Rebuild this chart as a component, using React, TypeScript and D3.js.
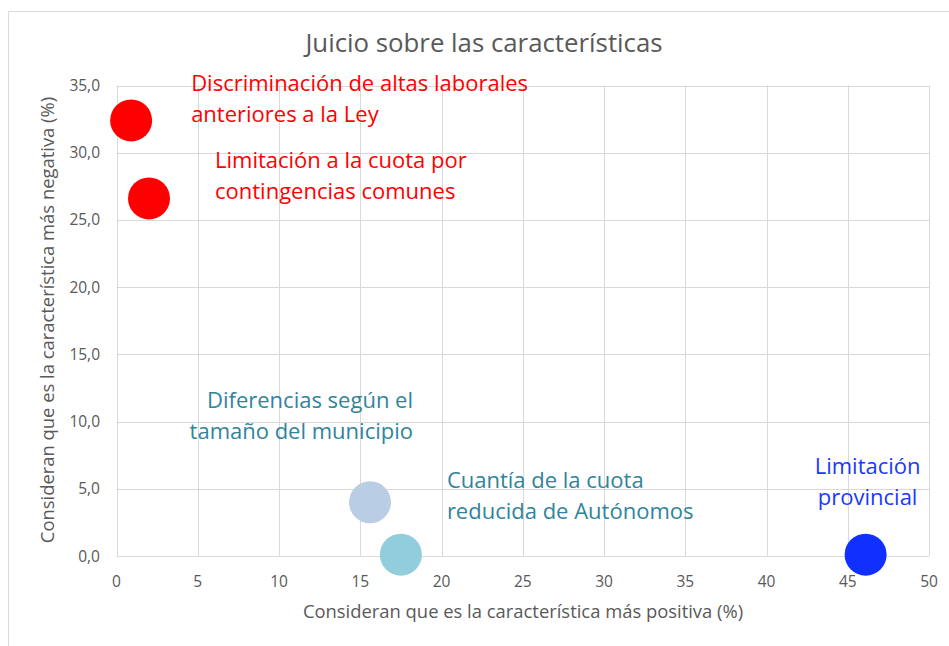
import * as d3 from "d3";
import React, { useEffect, useRef } from "react";

// valores
const xPositiva = [0.9, 2.0, 15.6, 17.5, 46.1];
const yNegativa = [32.4, 26.6, 4.0, 0.1, 0.1];
const etiquetas = [
  ["Discriminación de altas laborales", "anteriores a la Ley"],
  ["Limitación a la cuota por", "contingencias comunes"],
  ["Diferencias según el", "tamaño del municipio"],
  ["Cuantía de la cuota", "reducida de Autónomos"],
  ["Limitación", "provincial"],
];
const coloresPunto = ["#FF0000", "#FF0000", "#B9CDE5", "#92CDDC", "#1030FF"];
const coloresTexto = ["#FF0000", "#FF0000", "#31849B", "#31849B", "#1B38FF"];
const xTicks = [0, 5, 10, 15, 20, 25, 30, 35, 40, 45, 50];
const yTicks = [0, 5, 10, 15, 20, 25, 30, 35];

// posición de cada etiqueta respecto a su punto (px)
const etiquetaOffset = [
  { dx: 60, dy: -29, anchor: "start" },
  { dx: 66, dy: -30, anchor: "start" },
  { dx: 43, dy: -94, anchor: "end" },
  { dx: 46, dy: -67, anchor: "start" },
  { dx: 2, dy: -81, anchor: "middle" },
];

const W = 949;
const H = 646;
const FONT = "'Open Sans', Lato, sans-serif";

const App = () => {
  const ref = useRef<SVGSVGElement>(null);

  useEffect(() => {
    const svg = d3.select(ref.current);
    svg.selectAll("*").remove();

    const margin = { top: 85.5, right: 20, bottom: 90, left: 116.5 };

    const x = d3.scaleLinear().domain([0, 50]).range([margin.left, 929]);
    const y = d3.scaleLinear().domain([0, 35]).range([556, margin.top]);

    svg
      .append("rect")
      .attr("x", 8.5)
      .attr("y", 11.5)
      .attr("width", 960)
      .attr("height", 660)
      .attr("fill", "#fff")
      .attr("stroke", "#D9D9D9")
      .attr("stroke-width", 1);

    // rejilla
    svg
      .append("g")
      .selectAll("line.v")
      .data(xTicks)
      .join("line")
      .attr("x1", (d) => Math.round(x(d)) + 0.5)
      .attr("x2", (d) => Math.round(x(d)) + 0.5)
      .attr("y1", y(0))
      .attr("y2", y(35))
      .attr("stroke", "#D9D9D9");

    svg
      .append("g")
      .selectAll("line.h")
      .data(yTicks)
      .join("line")
      .attr("x1", x(0))
      .attr("x2", x(50))
      .attr("y1", (d) => Math.round(y(d)) + 0.5)
      .attr("y2", (d) => Math.round(y(d)) + 0.5)
      .attr("stroke", "#D9D9D9");

    // etiquetas de ejes
    svg
      .append("g")
      .selectAll("text")
      .data(xTicks)
      .join("text")
      .attr("x", (d) => x(d))
      .attr("y", 587)
      .attr("text-anchor", "middle")
      .attr("font-family", FONT)
      .attr("font-size", 15.5)
      .attr("fill", "#595959")
      .text((d) => d);

    svg
      .append("g")
      .selectAll("text")
      .data(yTicks)
      .join("text")
      .attr("x", 100)
      .attr("y", (d) => y(d) + 5.5)
      .attr("text-anchor", "end")
      .attr("font-family", FONT)
      .attr("font-size", 15.5)
      .attr("fill", "#595959")
      .text((d) => d.toFixed(1).replace(".", ","));

    svg
      .append("text")
      .attr("x", 523)
      .attr("y", 618)
      .attr("text-anchor", "middle")
      .attr("font-family", FONT)
      .attr("font-size", 18.4)
      .attr("fill", "#595959")
      .text("Consideran que es la característica más positiva (%)");

    svg
      .append("text")
      .attr("transform", "translate(54,320) rotate(-90)")
      .attr("text-anchor", "middle")
      .attr("font-family", FONT)
      .attr("font-size", 18.4)
      .attr("fill", "#595959")
      .text("Consideran que es la característica más negativa (%)");

    svg
      .append("text")
      .attr("x", 484)
      .attr("y", 52)
      .attr("text-anchor", "middle")
      .attr("font-family", FONT)
      .attr("font-size", 25.8)
      .attr("fill", "#595959")
      .text("Juicio sobre las características");

    const puntos = xPositiva.map((v, i) => ({ x: v, y: yNegativa[i], i }));

    svg
      .append("g")
      .selectAll("circle")
      .data(puntos)
      .join("circle")
      .attr("cx", (d) => x(d.x))
      .attr("cy", (d) => y(d.y))
      .attr("r", 21)
      .attr("fill", (d) => coloresPunto[d.i]);

    const lab = svg
      .append("g")
      .selectAll("text")
      .data(puntos)
      .join("text")
      .attr("font-family", FONT)
      .attr("font-size", 22)
      .attr("fill", (d) => coloresTexto[d.i])
      .attr("text-anchor", (d) => etiquetaOffset[d.i].anchor);

    lab
      .selectAll("tspan")
      .data((d) =>
        etiquetas[d.i].map((t, k) => ({
          t,
          k,
          px: x(d.x) + etiquetaOffset[d.i].dx,
          py: y(d.y) + etiquetaOffset[d.i].dy,
        }))
      )
      .join("tspan")
      .attr("x", (d) => d.px)
      .attr("y", (d) => d.py + d.k * 31)
      .text((d) => d.t);
  }, []);

  return (
    <svg
      ref={ref}
      width={W}
      height={H}
      style={{ position: "absolute", left: 0, top: 0, background: "#fff" }}
    />
  );
};

export default App;
